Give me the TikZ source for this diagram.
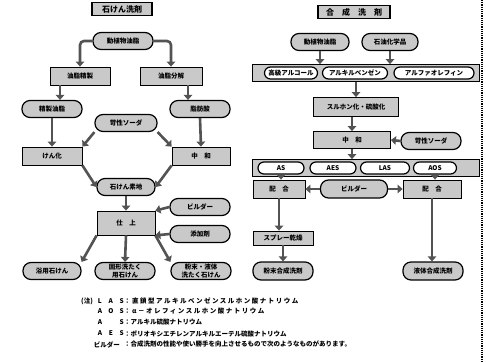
\documentclass[tikz,border=0pt]{standalone}
\usepackage{fontspec}
\newfontfamily\jp{Noto Sans CJK JP}
\newfontfamily\jpw[LetterSpace=23]{Noto Sans CJK JP}
\usetikzlibrary{arrows.meta,calc}

\begin{document}
\begin{tikzpicture}[x=1pt,y=-1pt,
  box/.style={draw,thick,fill=gray!42,inner sep=1pt,minimum height=18pt,minimum width=60pt,
    font=\jp\bfseries\fontsize{6.5}{7.5}\selectfont,align=center},
  oval/.style={box,rounded corners=8pt,line width=1.2pt,minimum height=17pt},
  inner/.style={oval,fill=white,minimum height=12pt,rounded corners=6pt},
  ttl/.style={box,line width=1.2pt,minimum height=13pt,font=\jp\bfseries\fontsize{8}{9}\selectfont},
  arr/.style={draw=gray!65!black,line width=2.6pt,-{Triangle[length=5pt,width=8.5pt]}},
  lgk/.style={anchor=east,inner sep=0pt,font=\jp\bfseries\fontsize{6.5}{7}\selectfont},
  lgt/.style={anchor=west,inner sep=0pt,font=\jp\bfseries\fontsize{6.5}{7}\selectfont}]
\useasboundingbox (0,0) rectangle (486,361);
\draw[densely dotted,line width=1.2pt] (482,0) -- (482,361);
% soap
\node[ttl] (tL) at (122,9) {石けん洗剤};
\node[oval] (oil) at (123,41) {動植物油脂};
\node[box] (ref) at (80,76) {油脂精製};
\node[box,minimum width=62pt] (dec) at (171,76) {油脂分解};
\node[oval] (roil) at (52,109) {精製油脂};
\node[oval] (facid) at (200,109) {脂肪酸};
\node[oval,minimum width=62pt] (soda) at (126,123) {苛性ソーダ};
\node[box] (sap) at (52,156) {けん化};
\node[box,minimum width=58pt] (neut) at (201,156) {中　和};
\node[oval,minimum width=58pt] (base) at (126,187) {石けん素地};
\node[box,minimum width=58pt,minimum height=24pt] (fin) at (126,223) {仕　上};
\node[oval] (bld) at (200,207) {ビルダー};
\node[oval] (add) at (200,234) {添加剤};
\node[oval,minimum width=58pt] (bath) at (52,271) {浴用石けん};
\node[oval] (solid) at (125,271) {固形洗たく\\用石けん};
\node[oval] (powd) at (201,271) {粉末・液体\\洗たく石けん};
\draw[arr,rounded corners=4pt] (oil.west) -| (ref.north);
\draw[arr,rounded corners=4pt] (oil.east) -| (dec.north);
\draw[arr] ([xshift=-20pt]ref.south) -- ([xshift=8pt]roil.north);
\draw[arr] ([xshift=17pt]dec.south) -- ([xshift=-12pt]facid.north);
\draw[arr] (roil.south) -- (sap.north);
\draw[arr] (facid.south) -- (neut.north);
\draw[arr] (soda.south west) -- (sap.north east);
\draw[arr] (soda.south east) -- (neut.north west);
\draw[arr] (sap.south east) -- (base.west);
\draw[arr] (neut.south west) -- (base.east);
\draw[arr] (base.south) -- (fin.north);
\draw[arr] (bld.west) -- (fin.north east);
\draw[arr] (add.west) -- (fin.south east);
\draw[arr] (fin.south west) -- (bath.north east);
\draw[arr] (fin.south) -- (solid.north);
\draw[arr] (fin.south east) -- (powd.north west);
% detergent
\node[ttl,minimum width=72pt] (tR) at (354,12) {合　成　洗　剤};
\node[oval,minimum width=58pt] (nat) at (320,42) {動植物油脂};
\node[oval,minimum width=56pt] (pet) at (390,42) {石油化学品};
\node[box,minimum width=227pt,minimum height=17pt] (raw) at (366,73) {};
\node[inner,minimum width=53pt] (alc) at (291,73) {高級アルコール};
\node[inner,minimum width=65pt] (lab) at (355,73) {アルキルベンゼン};
\node[inner,minimum width=80pt] (aof) at (434,73) {アルファオレフィン};
\node[box,minimum width=85pt,minimum height=19pt] (sulf) at (356,107) {スルホン化・硫酸化};
\node[box,minimum width=77pt,minimum height=17pt] (neu2) at (352,140) {中　和};
\node[oval] (soda2) at (431,141) {苛性ソーダ};
\node[box,minimum width=227pt,minimum height=17pt] (surf) at (366,168) {};
\node[inner,minimum width=46pt] (as) at (281,168) {AS};
\node[inner,minimum width=46pt] (aes) at (333,168) {AES};
\node[inner,minimum width=49pt] (las) at (385,168) {LAS};
\node[inner,minimum width=43pt] (aos) at (435,168) {AOS};
\node[box,minimum width=52pt] (mixL) at (279,189) {配　合};
\node[oval,minimum width=67pt,minimum height=18pt] (bld2) at (354,189) {ビルダー};
\node[box,minimum width=58pt] (mixR) at (432,189) {配　合};
\node[box,minimum height=14pt] (spray) at (283,238) {スプレー乾燥};
\node[oval,minimum height=18pt] (pwd) at (283,271) {粉末合成洗剤};
\node[oval,minimum height=18pt] (liq) at (433,271) {液体合成洗剤};
\draw[arr] (nat.south) -- (nat.south |- raw.north);
\draw[arr] (pet.south) -- (pet.south |- raw.north);
\draw[arr] (sulf.north |- raw.south) -- (sulf.north);
\draw[arr] (neu2.north |- sulf.south) -- (neu2.north);
\draw[arr] (soda2.west) -- (neu2.east);
\draw[arr] (neu2.south) -- (neu2.south |- surf.north);
\draw[arr] (as.south |- surf.south) -- (as.south |- mixL.north);
\draw[arr] (aos.south |- surf.south) -- (aos.south |- mixR.north);
\draw[arr] (bld2.west) -- (mixL.east);
\draw[arr] (bld2.east) -- (mixR.west);
\draw[arr] (mixL.south) -- (mixL.south |- spray.north);
\draw[arr] (spray.south) -- (pwd.north);
\draw[arr] (mixR.south) -- (mixR.south |- liq.north);
% notes
\node[lgt] (nt) at (81,301) {(注)};
\node[lgk] (k1) at (124,301) {\makebox[26pt][s]{L\hfil A\hfil S}};
\node[lgt,font=\jpw\bfseries\fontsize{6.5}{7}\selectfont] (t1) at (124,301) {：直鎖型アルキルベンゼンスルホン酸ナトリウム};
\node[lgk] (k2) at (124,311.5) {\makebox[26pt][s]{A\hfil O\hfil S}};
\node[lgt,font=\jpw\bfseries\fontsize{6.5}{7}\selectfont] (t2) at (124,311.5) {：α－オレフィンスルホン酸ナトリウム};
\node[lgk] (k3) at (124,322.5) {\makebox[26pt][s]{A\hfil S}};
\node[lgt] (t3) at (124,322.5) {：アルキル硫酸ナトリウム};
\node[lgk] (k4) at (124,333.5) {\makebox[26pt][s]{A\hfil E\hfil S}};
\node[lgt] (t4) at (124,333.5) {：ポリオキシエチレンアルキルエーテル硫酸ナトリウム};
\node[lgk] (k5) at (124,344.5) {\makebox[30pt][s]{ビルダー}};
\node[lgt] (t5) at (124,344.5) {：合成洗剤の性能や使い勝手を向上させるもので次のようなものがあります。};
\end{tikzpicture}
\end{document}
